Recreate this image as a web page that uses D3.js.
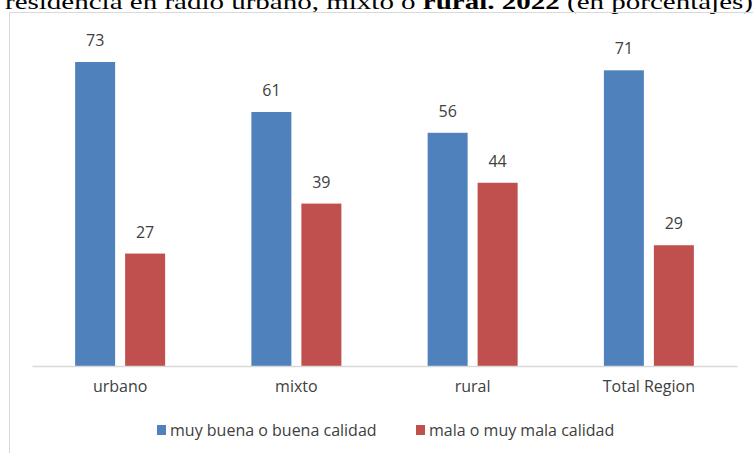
<!DOCTYPE html>
<html><head><meta charset="utf-8">
<script src="https://cdn.jsdelivr.net/npm/d3@7"></script>
<style>body{margin:0;background:#fff}svg{display:block}</style>
</head><body><svg id="c" width="753" height="453"></svg>
<script>
const categories = ["urbano", "mixto", "rural", "Total Region"];
const seriesNames = ["muy buena o buena calidad", "mala o muy mala calidad"];
const buena = [73, 61, 56, 71];
const mala = [27, 39, 44, 29];
const colors = ["#4F81BD", "#C0504D"];

const svg = d3.select("#c");
const W = 753, H = 453;
const font = "'Open Sans', 'Noto Sans', sans-serif";

// title (cut off at top, as in the reference)
const title = svg.append("text").attr("x", 5).attr("y", 9)
  .attr("font-family", "'Liberation Serif', 'Times New Roman', serif")
  .attr("font-size", 22).attr("fill", "#000")
  .attr("textLength", 748).attr("lengthAdjust", "spacingAndGlyphs");
title.append("tspan").text("residencia en radio urbano, mixto o ");
title.append("tspan").attr("font-weight", "bold").text("rural. 2022");
title.append("tspan").text(" (en porcentajes)");

// chart frame
svg.append("path").attr("d", `M9.5,${H} V12.5 H${W}`)
  .attr("fill", "none").attr("stroke", "#D9D9D9").attr("stroke-width", 1);

const x0 = d3.scaleBand().domain(categories).range([32, 737]).paddingInner(0).paddingOuter(0);
const x1 = d3.scaleBand().domain([0, 1]).range([-45, 45]).paddingInner(0.2);
const y = d3.scaleLinear().domain([0, 73]).range([366, 62]);

const data = categories.map((c, i) => ({c, v: [buena[i], mala[i]]}));

const g = svg.append("g");
const grp = g.selectAll("g.cat").data(data).join("g")
  .attr("transform", d => `translate(${x0(d.c) + x0.bandwidth() / 2},0)`);

grp.selectAll("rect").data(d => d.v.map((v, k) => ({v, k}))).join("rect")
  .attr("x", d => x1(d.k)).attr("width", x1.bandwidth())
  .attr("y", d => y(d.v)).attr("height", d => y(0) - y(d.v))
  .attr("fill", d => colors[d.k]);

grp.selectAll("text.val").data(d => d.v.map((v, k) => ({v, k}))).join("text")
  .attr("class", "val")
  .attr("x", d => x1(d.k) + x1.bandwidth() / 2).attr("y", d => y(d.v) - 16)
  .attr("text-anchor", "middle").attr("font-family", font).attr("font-size", 16)
  .attr("fill", "#404040").text(d => d.v);

// axis
const axis = d3.axisBottom(x0).tickSize(0).tickPadding(15);
const ax = svg.append("g").attr("transform", "translate(0,366)").call(axis);
ax.select(".domain").attr("stroke", "#D9D9D9").attr("stroke-width", 1.5);
ax.selectAll("text").attr("font-family", font).attr("font-size", 16).attr("fill", "#404040");

// legend
const legX = [157, 416];
const leg = svg.append("g");
seriesNames.forEach((n, i) => {
  leg.append("rect").attr("x", legX[i]).attr("y", 425).attr("width", 9).attr("height", 10).attr("fill", colors[i]);
  leg.append("text").attr("x", legX[i] + 13).attr("y", 436).attr("font-family", font)
    .attr("font-size", 16).attr("fill", "#404040").text(n);
});
</script></body></html>
